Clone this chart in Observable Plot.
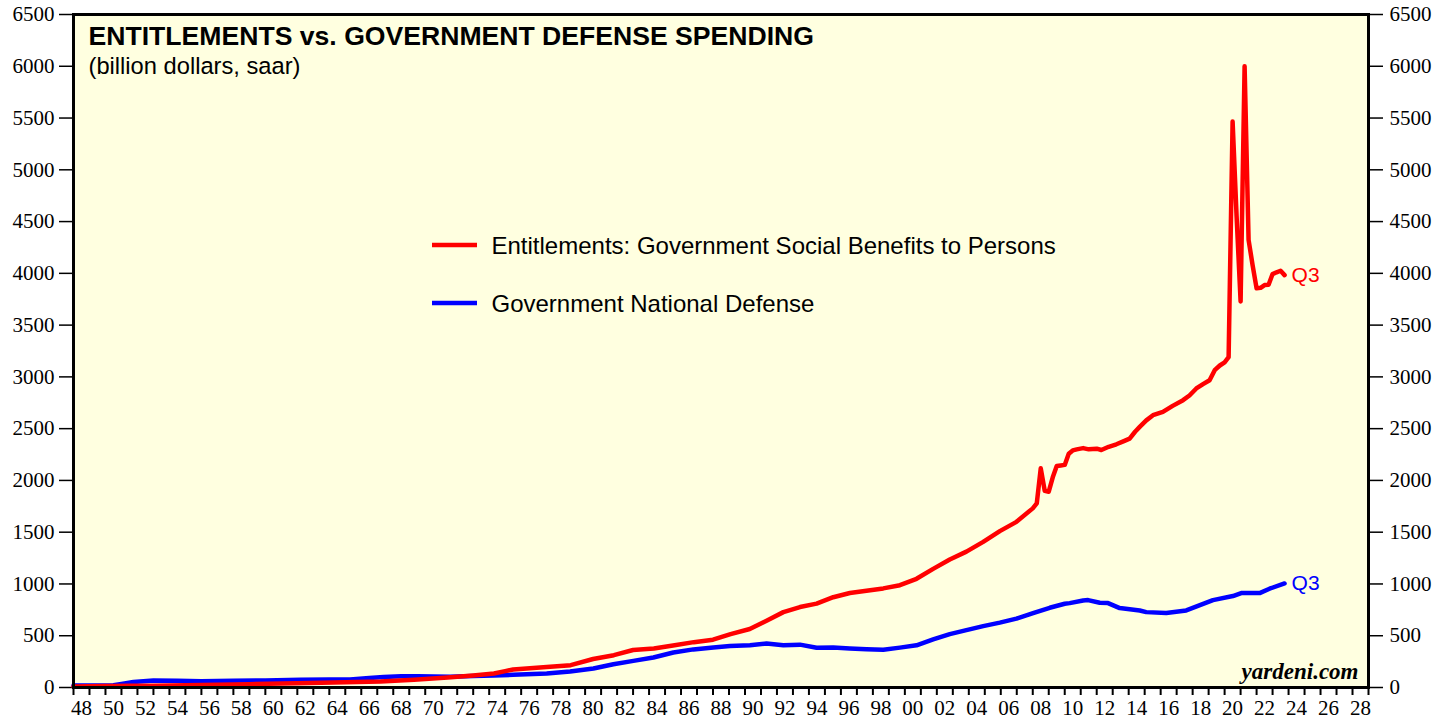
<!DOCTYPE html>
<html><head><meta charset="utf-8">
<script src="https://cdn.jsdelivr.net/npm/d3@7"></script>
<script src="https://cdn.jsdelivr.net/npm/@observablehq/plot@0.6"></script>
<style>body{margin:0;background:#fff;} #chart{position:relative;width:1450px;height:719px;overflow:hidden;}</style>
</head><body><div id="chart"></div>
<script>
// Entitlements: Government Social Benefits to Persons (billion $, saar)
const entitlementDates = [1948.0,1949.0,1950.0,1950.5,1951.5,1953.0,1956.0,1959.0,1962.0,1965.0,1967.2,1969.3,1971.4,1973.0,1974.3,1975.0,1975.5,1977.6,1979.1,1980.5,1981.8,1983.0,1984.3,1985.5,1986.8,1988.0,1989.1,1990.3,1991.35,1992.4,1993.44,1994.48,1995.52,1996.56,1997.6,1998.65,1999.69,2000.73,2001.77,2002.81,2003.85,2004.9,2005.94,2006.98,2008.0,2008.25,2008.5,2008.75,2009.0,2009.25,2009.5,2009.75,2010.0,2010.25,2010.5,2010.75,2011.15,2011.5,2012.0,2012.29,2012.75,2013.23,2013.7,2014.06,2014.4,2014.69,2015.1,2015.52,2016.14,2016.75,2017.4,2017.8,2018.23,2018.65,2019.06,2019.38,2019.7,2020.0,2020.25,2020.5,2020.75,2021.0,2021.25,2021.5,2021.75,2022.0,2022.25,2022.5,2022.75,2023.0,2023.25,2023.5,2023.75];
const entitlementValues = [10,12,14,14,16,17,23,32,40,50,58,75,96,116,135,158,174,198,216,275,312,362,377,405,438,462,515,565,645,728,777,810,872,913,934,957,988,1050,1146,1236,1312,1406,1510,1600,1730,1778,2117,1900,1891,2030,2140,2145,2150,2258,2290,2300,2312,2300,2307,2294,2325,2349,2380,2404,2470,2517,2580,2630,2662,2720,2775,2820,2888,2930,2968,3065,3110,3140,3190,5466,4550,3728,6000,4322,4080,3855,3860,3887,3890,3993,4010,4025,3983];
// Government National Defense (billion $, saar)
const defenseDates = [1948.0,1950.5,1951.0,1951.75,1953.0,1954.5,1956.0,1958.0,1960.0,1962.2,1964.0,1965.3,1966.5,1967.4,1968.5,1969.5,1970.5,1971.56,1973.0,1974.3,1975.5,1977.6,1979.06,1980.52,1981.77,1983.02,1984.27,1985.52,1986.77,1988.02,1989.06,1990.31,1991.35,1992.4,1993.44,1994.48,1995.52,1996.56,1997.6,1998.65,1999.69,2000.73,2001.77,2002.81,2003.85,2004.9,2005.94,2006.98,2008.02,2009.06,2010.0,2010.31,2011.15,2011.46,2012.19,2012.71,2013.44,2014.69,2015.1,2016.35,2017.6,2019.27,2020.52,2021.04,2022.19,2022.81,2023.75];
const defenseValues = [20,22,35,54,68,64,61,66,68,76,78,78,92,102,108,109,106,104,110,116,122,135,155,184,225,257,290,338,368,386,400,409,425,409,414,384,386,377,370,364,385,408,464,516,554,593,627,665,719,770,809,815,841,844,818,815,767,744,728,719,744,844,883,912,912,954,1005];

const yTicks = d3.range(0, 6501, 500);
const yearTicks = d3.range(1948, 2030);
const labelYears = d3.range(1948, 2029, 2);
const seriesNames = ["Entitlements: Government Social Benefits to Persons", "Government National Defense"];
const seriesColors = ["#ff0000", "#0000ff"];
const titleText = "ENTITLEMENTS vs. GOVERNMENT DEFENSE SPENDING";
const subtitleText = "(billion dollars, saar)";
const sourceText = "yardeni.com";
const endLabel = "Q3";

const entitlements = entitlementDates.map((d, i) => ({date: d, value: entitlementValues[i]}));
const defense = defenseDates.map((d, i) => ({date: d, value: defenseValues[i]}));

const serif = "'Liberation Serif', 'Times New Roman', serif";
const sans = "'Liberation Sans', Arial, Helvetica, sans-serif";

const plot = Plot.plot({
  width: 1450, height: 719,
  marginLeft: 73, marginRight: 82, marginTop: 14, marginBottom: 32,
  x: {domain: [1948, 2029]},
  y: {domain: [0, 6500]},
  style: {background: "transparent", fontFamily: serif, color: "black"},
  marks: [
    Plot.frame({fill: "#ffffe0", stroke: null}),
    Plot.axisY({anchor: "left", ticks: yTicks, tickFormat: d => String(d), tickSize: 14, tickPadding: 5, label: null, fontSize: 21, fontFamily: serif, color: "black", strokeWidth: 1.5, strokeOpacity: 1}),
    Plot.axisY({anchor: "right", ticks: yTicks, tickFormat: d => String(d), tickSize: 14, tickPadding: 7, label: null, fontSize: 21, fontFamily: serif, color: "black", strokeWidth: 1.5, strokeOpacity: 1}),
    Plot.axisX({ticks: yearTicks, tickSize: 8, tickFormat: () => "", label: null, strokeWidth: 2, color: "black", strokeOpacity: 1}),
    Plot.axisX({ticks: labelYears.map(y => y + 0.5), tickSize: 0, tickPadding: 13, label: null, fontSize: 21, fontFamily: serif, color: "black",
      tickFormat: d => String(Math.floor(d) % 100).padStart(2, "0")}),
    Plot.line(defense, {x: "date", y: "value", stroke: seriesColors[1], strokeWidth: 4.5, strokeLinejoin: "round"}),
    Plot.line(entitlements, {x: "date", y: "value", stroke: seriesColors[0], strokeWidth: 4.5, strokeLinejoin: "round"}),
    Plot.text([entitlements[entitlements.length - 1]], {x: "date", y: "value", text: () => endLabel, dx: 7, textAnchor: "start", fill: seriesColors[0], fontSize: 21, fontFamily: sans}),
    Plot.text([defense[defense.length - 1]], {x: "date", y: "value", text: () => endLabel, dx: 7, textAnchor: "start", fill: seriesColors[1], fontSize: 21, fontFamily: sans}),
    Plot.text([titleText], {text: d => d, frameAnchor: "top-left", dx: 15, dy: 30, lineAnchor: "bottom", textAnchor: "start", fontWeight: "bold", fontSize: 26.6, fontFamily: sans, fill: "black"}),
    Plot.text([subtitleText], {text: d => d, frameAnchor: "top-left", dx: 15, dy: 59, lineAnchor: "bottom", textAnchor: "start", fontSize: 23.7, fontFamily: sans, fill: "black"}),
    Plot.text([seriesNames[0]], {text: d => d, frameAnchor: "top-left", dx: 418, dy: 239, lineAnchor: "bottom", textAnchor: "start", fontSize: 24, fontFamily: sans, fill: "black"}),
    Plot.text([seriesNames[1]], {text: d => d, frameAnchor: "top-left", dx: 418, dy: 297, lineAnchor: "bottom", textAnchor: "start", fontSize: 24, fontFamily: sans, fill: "black"}),
    Plot.text([sourceText], {text: d => d, frameAnchor: "bottom-right", dx: -10, dy: -9, lineAnchor: "bottom", textAnchor: "end", fontWeight: "bold", fontStyle: "italic", fontSize: 23, fontFamily: serif, fill: "black"}),
    Plot.frame({stroke: "black", strokeWidth: 3})
  ]
});

// legend swatches
const svg = d3.select(plot);
[[245, seriesColors[0]], [303, seriesColors[1]]].forEach(([y, c]) => {
  svg.append("line").attr("x1", 432).attr("x2", 477).attr("y1", y).attr("y2", y)
    .attr("stroke", c).attr("stroke-width", 4.5);
});

document.getElementById("chart").appendChild(plot);
</script>
</body></html>
